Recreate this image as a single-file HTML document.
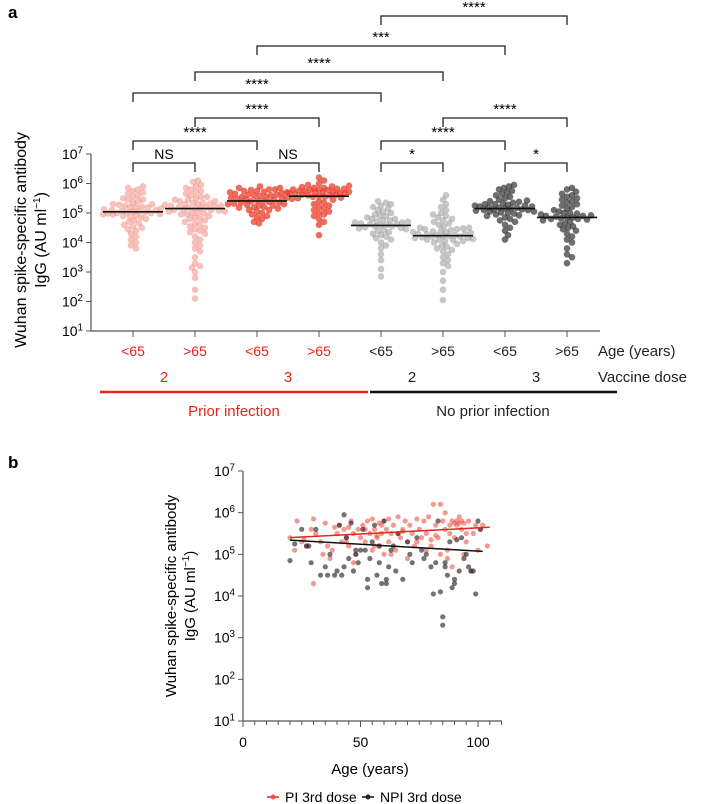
<!DOCTYPE html>
<html><head><meta charset="utf-8"><style>
body{margin:0;background:#fff;}
svg{display:block;font-family:"Liberation Sans",sans-serif;}
</style></head><body>
<svg id="c" width="706" height="804" viewBox="0 0 706 804"></svg>
<script>
const groupLabels=["<65",">65","<65",">65","<65",">65","<65",">65"];
const yTicksExp=[1,2,3,4,5,6,7];
const medians=[5.04,5.15,5.41,5.57,4.58,4.23,5.15,4.85];
const g1=[5.9,5.85,5.8,5.75,5.7,5.65,5.6,5.55,5.5,5.45,5.45,5.4,5.35,5.3,5.3,5.25,5.2,5.2,5.15,5.1,5.1,5.08,5.05,5.05,5.03,5.0,5.0,4.98,4.95,4.95,4.9,4.88,4.85,4.8,4.75,4.7,4.65,4.6,4.55,4.5,4.45,4.4,4.3,4.2,4.1,4.0,3.9,3.8,5.12,5.18,4.92,5.02,5.22,4.97,5.28];
const g2=[6.1,6.05,5.95,5.9,5.85,5.8,5.75,5.7,5.65,5.6,5.55,5.55,5.5,5.45,5.45,5.4,5.4,5.35,5.35,5.3,5.3,5.25,5.25,5.2,5.2,5.18,5.15,5.15,5.12,5.1,5.1,5.05,5.05,5.0,5.0,4.95,4.95,4.9,4.85,4.8,4.8,4.75,4.7,4.65,4.6,4.55,4.5,4.45,4.4,4.35,4.3,4.2,4.1,4.0,3.9,3.8,3.7,3.5,3.3,3.2,3.15,3.0,2.8,2.4,2.1,5.22,5.32,5.08,5.28,4.98];
const g3=[5.9,5.85,5.85,5.8,5.8,5.78,5.75,5.75,5.72,5.7,5.7,5.68,5.65,5.62,5.6,5.6,5.58,5.55,5.52,5.5,5.5,5.48,5.45,5.42,5.4,5.4,5.38,5.35,5.32,5.3,5.3,5.28,5.25,5.2,5.2,5.15,5.1,5.1,5.05,5.0,4.95,4.9,4.85,4.8,4.7,4.65,5.62,5.55,5.45,5.35,5.25,5.18];
const g4=[6.2,6.1,6.0,5.95,5.92,5.9,5.88,5.85,5.85,5.82,5.8,5.8,5.78,5.75,5.75,5.72,5.7,5.7,5.68,5.65,5.65,5.62,5.6,5.6,5.58,5.55,5.55,5.52,5.5,5.48,5.45,5.4,5.35,5.3,5.25,5.2,5.15,5.1,5.05,5.0,4.95,4.9,4.8,4.7,4.6,4.25,5.82,5.78,5.72,5.68,5.62];
const g5=[5.4,5.35,5.3,5.25,5.2,5.15,5.1,5.05,5.0,4.95,4.9,4.9,4.85,4.8,4.8,4.75,4.72,4.7,4.68,4.65,4.62,4.6,4.58,4.55,4.52,4.5,4.48,4.45,4.4,4.35,4.3,4.25,4.2,4.15,4.1,4.0,3.9,3.8,3.6,3.4,3.1,2.85,4.62,4.55,4.42,4.75,4.68];
const g6=[5.6,5.45,5.3,5.2,5.1,5.0,4.95,4.9,4.85,4.8,4.75,4.7,4.65,4.6,4.55,4.5,4.48,4.45,4.42,4.4,4.38,4.35,4.32,4.3,4.28,4.25,4.22,4.2,4.18,4.15,4.12,4.1,4.08,4.05,4.0,3.95,3.9,3.85,3.8,3.75,3.7,3.6,3.5,3.4,3.3,3.2,3.0,2.7,2.4,2.05,4.3,4.25,4.2,4.15,4.1,4.35,4.45,4.05,4.5,4.22];
const g7=[5.95,5.9,5.85,5.8,5.75,5.7,5.65,5.6,5.55,5.5,5.45,5.42,5.4,5.38,5.35,5.32,5.3,5.28,5.25,5.22,5.2,5.18,5.15,5.15,5.12,5.1,5.08,5.05,5.02,5.0,4.98,4.95,4.92,4.9,4.85,4.8,4.75,4.7,4.6,4.5,4.4,4.25,4.1,5.25,5.18,5.1,5.05,5.3,5.22,5.12];
const g8=[5.85,5.8,5.72,5.65,5.6,5.55,5.5,5.45,5.4,5.35,5.3,5.25,5.2,5.15,5.1,5.05,5.0,4.98,4.95,4.92,4.9,4.88,4.85,4.82,4.8,4.78,4.75,4.7,4.65,4.6,4.55,4.5,4.45,4.4,4.3,4.2,4.1,4.0,3.8,3.6,3.5,3.3,4.9,4.85,4.8,5.0];
const groups=[g1,g2,g3,g4,g5,g6,g7,g8];
const sigLabels=["****","***","****","****","****","****","****","****","NS","NS","*","*"];
const sigFrom=[4,2,1,0,1,5,0,4,0,2,4,6];
const sigTo=[7,6,5,4,3,7,2,6,1,3,5,7];
const sigLevel=[0,1,2,3,4,4,5,5,6,6,6,6];
// panel b data [age, log10 value]
const piAge=[20,23,25,27,29,30,31,33,35,36,38,40,41,42,43,44,45,46,47,48,49,50,51,52,53,54,55,55,56,57,58,58,59,60,60,61,62,62,63,64,65,66,67,68,69,70,71,72,73,74,75,76,77,78,79,80,81,82,83,84,84,85,86,86,87,88,88,89,90,90,91,91,92,92,93,93,94,95,95,96,97,98,99,100,101,102,104,22,26,34,37,39,44,47,52,56,59,63,66,70,74,78,82,87,89,94,30,45,57,68,80];
const piVal=[5.4,5.8,5.3,5.2,5.6,5.85,5.5,5.3,5.75,5.2,5.1,5.5,5.7,5.3,5.6,5.4,5.2,5.8,5.5,5.0,5.6,5.4,5.7,5.3,5.8,5.5,5.85,5.1,5.6,5.4,5.75,5.2,5.5,5.8,5.0,5.6,5.3,5.85,5.5,5.7,5.1,5.9,5.4,5.6,5.8,5.3,5.7,5.5,5.2,5.85,5.6,5.4,5.8,5.5,5.9,5.2,6.2,5.7,5.4,6.2,5.0,5.8,6.0,5.6,5.1,5.7,5.5,5.8,5.75,5.4,5.8,5.7,5.9,5.75,5.8,5.6,5.75,5.5,5.3,5.8,4.6,5.5,5.7,5.1,5.6,5.7,5.2,5.1,5.35,5.0,4.9,5.65,5.3,4.8,5.6,5.2,5.7,5.0,5.5,4.9,5.3,5.1,5.45,4.9,4.7,5.0,4.3,5.65,5.45,5.55,5.35,5.25];
const npiAge=[20,22,25,27,29,31,33,35,37,39,40,41,42,43,43,44,45,46,47,48,49,50,51,52,53,53,54,55,56,57,58,58,59,60,61,62,63,64,65,66,68,70,72,74,76,78,80,81,82,83,84,85,85,86,87,88,89,90,91,92,93,94,95,96,97,98,99,100,101,28,36,48,61,71,77,86,90];
const npiVal=[4.85,5.25,5.6,5.2,4.8,5.6,4.5,4.7,5.0,4.5,4.6,5.7,4.5,5.95,4.7,5.4,4.9,5.75,4.6,5.1,4.8,5.1,5.6,5.1,4.2,4.4,4.9,5.3,5.7,4.5,4.8,5.2,4.3,5.8,4.3,4.7,5.1,5.2,4.6,5.5,4.4,5.3,4.8,5.4,5.1,5.0,4.7,4.05,4.8,5.8,4.1,3.5,3.3,4.8,4.5,5.3,4.2,4.4,5.35,4.6,5.4,4.9,5.0,4.7,4.6,4.6,4.05,5.8,5.6,5.2,4.5,5.0,4.4,5.0,4.9,4.7,4.3];
const fitAge=[20,105];
const fitPI=[5.40,5.65];
const fitNPI=[5.34,5.07];

const S=document.getElementById('c');const NS='http://www.w3.org/2000/svg';
function el(t,a,p){const e=document.createElementNS(NS,t);for(const k in a)e.setAttribute(k,a[k]);(p||S).appendChild(e);return e;}
function tx(x,y,s,a,p){const e=el('text',Object.assign({x:x,y:y},a),p);e.textContent=s;return e;}
function sup(x,y,base,ex,fs,p){const t=el('text',{x:x,y:y,'font-size':fs,'text-anchor':'end'},p);const a=document.createElementNS(NS,'tspan');a.textContent=base;t.appendChild(a);const b=document.createElementNS(NS,'tspan');b.setAttribute('dy',-fs*0.4);b.setAttribute('font-size',fs*0.7);b.textContent=ex;t.appendChild(b);return t;}

// ---------- Panel a
const ax=91, yTop=154, yBot=331;
const ya=v=>yBot-(v-1)/6*(yBot-yTop);
const xa=i=>133+i*62;
const pa=el('g',{});
const pl=tx(8,18,'a',{'font-size':17,'font-weight':'bold'},pa);
el('line',{x1:ax,y1:yTop,x2:ax,y2:yBot,stroke:'#555','stroke-width':1.2},pa);
el('line',{x1:ax,y1:yBot,x2:600,y2:yBot,stroke:'#555','stroke-width':1.2},pa);
yTicksExp.forEach(e=>{const y=ya(e);el('line',{x1:ax-5,y1:y,x2:ax,y2:y,stroke:'#555'},pa);const t=sup(ax-8,y+5,'10',e,14,pa);});
const yt=el('text',{transform:'translate(26,240) rotate(-90)','text-anchor':'middle','font-size':16},pa);

yt.innerHTML='<tspan x="0" dy="0">Wuhan spike-specific antibody</tspan><tspan x="0" dy="20">IgG (AU ml</tspan><tspan dy="-6" font-size="10">−1</tspan><tspan dy="6">)</tspan>';
const fills=['rgba(238,120,105,0.45)','rgba(238,120,105,0.45)','rgba(232,60,40,0.75)','rgba(232,60,40,0.75)','rgba(130,130,130,0.45)','rgba(130,130,130,0.45)','rgba(50,50,50,0.7)','rgba(50,50,50,0.7)'];
const r=3.3, minD=5.2, maxOff=30;
groups.forEach((vals,gi)=>{
  const cx=xa(gi);const placed=[];
  const sorted=vals.slice().sort((a,b)=>Math.abs(a-medians[gi])-Math.abs(b-medians[gi]));
  sorted.forEach(v=>{const y=ya(v);let best=0,bestD=-1;
    for(let k=0;k<200;k++){const off=(k%2?1:-1)*Math.ceil(k/2)*1.0;if(Math.abs(off)>maxOff)break;let md=1e9;
      for(const p of placed){const dx=off-p[0],dy=y-p[1];md=Math.min(md,Math.sqrt(dx*dx+dy*dy));}
      if(md>=minD){best=off;bestD=1e9;break;}
      if(md>bestD){bestD=md;best=off;}}
    placed.push([best,y]);
    const c=el('circle',{cx:cx+best,cy:y,r:r,fill:fills[gi]},pa);
    
  });
  const m=el('line',{x1:cx-30,x2:cx+30,y1:ya(medians[gi]),y2:ya(medians[gi]),stroke:'#111','stroke-width':1.6},pa);
  
  el('line',{x1:cx,x2:cx,y1:yBot,y2:yBot+6,stroke:'#555'},pa);
  const t=tx(cx,356,groupLabels[gi],{'font-size':14,'text-anchor':'middle',fill:gi<4?'#e8231b':'#222'},pa);
  
});
const levelsY=[16,46,72,93,118,141,163];
sigLabels.forEach((s,i)=>{const y=levelsY[sigLevel[i]],x1=xa(sigFrom[i]),x2=xa(sigTo[i]);
  const g=el('g',{},pa);
  el('path',{d:`M${x1},${y+9}V${y}H${x2}V${y+9}`,fill:'none',stroke:'#222','stroke-width':1.3},g);
  tx((x1+x2)/2,y-4,s,{'font-size':s==='NS'?14:15,'text-anchor':'middle'},g);});
function lbl(x,y,s,fill,name,anchor){const t=tx(x,y,s,{'font-size':15,'text-anchor':anchor||'middle',fill:fill},pa);}
lbl(598,356,'Age (years)','#222','age-row-title','start');
lbl(598,382,'Vaccine dose','#222','dose-row-title','start');
lbl(164,382,'2','#e8231b','dose-label');lbl(288,382,'3','#e8231b','dose-label');
lbl(412,382,'2','#222','dose-label');lbl(536,382,'3','#222','dose-label');
el('line',{x1:100,x2:368,y1:392,y2:392,stroke:'#e8231b','stroke-width':2.5},pa);
el('line',{x1:370,x2:617,y1:392,y2:392,stroke:'#111','stroke-width':2.5},pa);
lbl(234,416,'Prior infection','#e8231b','prior-infection-label');
lbl(493,416,'No prior infection','#222','no-prior-infection-label');

// ---------- Panel b
const bx0=243,bx1=478,bTop=471,bBot=721;
const xb=a=>bx0+(a/100)*(bx1-bx0);
const yb=v=>bBot-(v-1)/6*(bBot-bTop);
const pb=el('g',{});
const pbl=tx(8,468,'b',{'font-size':17,'font-weight':'bold'},pb);
el('line',{x1:bx0,y1:bTop,x2:bx0,y2:bBot,stroke:'#555','stroke-width':1.2},pb);
el('line',{x1:bx0,y1:bBot,x2:502,y2:bBot,stroke:'#555','stroke-width':1.2},pb);
yTicksExp.forEach(e=>{const y=yb(e);el('line',{x1:bx0-5,y1:y,x2:bx0,y2:y,stroke:'#555'},pb);const t=sup(bx0-8,y+5,'10',e,14,pb);});
for(let a=0;a<=110;a+=5){el('line',{x1:xb(a),x2:xb(a),y1:bBot,y2:bBot+(a%50===0?6:4),stroke:'#555'},pb);}
[0,50,100].forEach(a=>{const t=tx(xb(a),747,a,{'font-size':14,'text-anchor':'middle'},pb);});
const xt=tx(370,774,'Age (years)',{'font-size':15,'text-anchor':'middle'},pb);
const yt2=el('text',{transform:'translate(176,596) rotate(-90)','text-anchor':'middle','font-size':15},pb);

yt2.innerHTML='<tspan x="0" dy="0">Wuhan spike-specific antibody</tspan><tspan x="0" dy="19">IgG (AU ml</tspan><tspan dy="-6" font-size="10">−1</tspan><tspan dy="6">)</tspan>';
piAge.forEach((a,i)=>{const c=el('circle',{cx:xb(a),cy:yb(piVal[i]),r:2.6,fill:'rgba(238,85,70,0.6)'},pb);});
npiAge.forEach((a,i)=>{const c=el('circle',{cx:xb(a),cy:yb(npiVal[i]),r:2.6,fill:'rgba(40,40,40,0.65)'},pb);});
const f1=el('line',{x1:xb(fitAge[0]),x2:xb(fitAge[1]),y1:yb(fitPI[0]),y2:yb(fitPI[1]),stroke:'#e8231b','stroke-width':1.5},pb);
const f2=el('line',{x1:xb(fitAge[0]),x2:xb(102),y1:yb(fitNPI[0]),y2:yb(fitNPI[1]),stroke:'#111','stroke-width':1.5},pb);
const lg1=el('g',{},pb);
el('line',{x1:267,x2:279,y1:797,y2:797,stroke:'#e8231b','stroke-width':1.5},lg1);el('circle',{cx:273,cy:797,r:2.5,fill:'#ee5546'},lg1);
tx(285,802,'PI 3rd dose',{'font-size':14},lg1);
const lg2=el('g',{},pb);
el('line',{x1:362,x2:374,y1:797,y2:797,stroke:'#111','stroke-width':1.5},lg2);el('circle',{cx:368,cy:797,r:2.5,fill:'#222'},lg2);
tx(380,802,'NPI 3rd dose',{'font-size':14},lg2);
</script>
</body></html>
